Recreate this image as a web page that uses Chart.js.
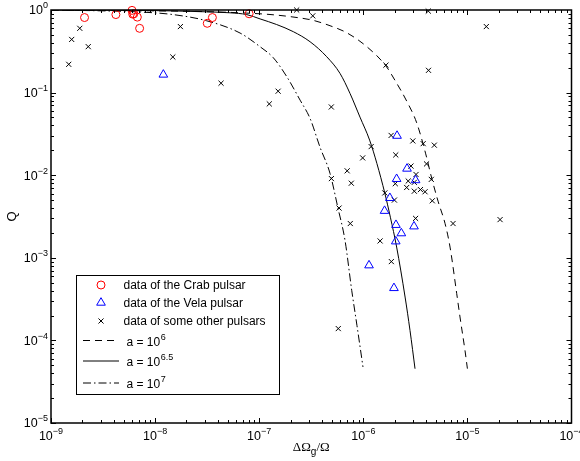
<!DOCTYPE html>
<html><head><meta charset="utf-8">
<script src="https://cdn.jsdelivr.net/npm/chart.js@4/dist/chart.umd.min.js"></script>
<style>html,body{margin:0;padding:0;background:#fff}#wrap{width:580px;height:461px;position:relative}</style>
</head><body><div id="wrap"><canvas id="c"></canvas></div>
<script>
// ---- data ----
const crabX = [2.1e-9, 4.2e-9, 6.0e-9, 6.1e-9, 6.25e-9, 6.75e-9, 7.1e-9, 3.17e-8, 3.55e-8, 8.0e-8];
const crabQ = [0.81, 0.88, 0.99, 0.89, 0.90, 0.82, 0.60, 0.69, 0.81, 0.90];

const velaX = [1.2e-8, 2.11e-6, 2.63e-6, 2.09e-6, 3.18e-6, 1.80e-6, 1.60e-6, 2.06e-6, 3.07e-6, 2.32e-6, 2.05e-6, 1.135e-6, 1.97e-6];
const velaQ = [0.165, 0.0300, 0.0120, 0.0090, 0.0087, 0.0053, 0.0037, 0.0025, 0.0024, 0.00198, 0.00158, 0.00081, 0.00043];

const otherX = [1.48e-9, 1.58e-9, 1.89e-9, 2.28e-9, 1.48e-8, 1.75e-8, 4.3e-8, 1.25e-7, 1.52e-7, 2.29e-7,
  3.27e-7, 4.93e-7, 1.65e-6, 4.21e-6, 4.23e-6, 1.52e-5, 1.85e-6, 2.99e-6, 3.76e-6, 4.81e-6,
  1.19e-6, 2.05e-6, 9.86e-7, 4.05e-6, 2.87e-6, 7.0e-7, 3.21e-6, 4.94e-7, 7.67e-7, 4.50e-6,
  2.70e-6, 3.09e-6, 2.03e-6, 2.61e-6, 3.09e-6, 3.54e-6, 3.92e-6, 1.61e-6, 1.99e-6, 4.60e-6,
  5.85e-7, 7.50e-7, 3.18e-6, 7.28e-6, 2.06e-5, 1.45e-6, 1.86e-6, 5.75e-7];
const otherQ = [0.22, 0.44, 0.60, 0.36, 0.27, 0.63, 0.13, 0.073, 0.104, 1.0,
  0.85, 0.067, 0.215, 0.97, 0.186, 0.63, 0.0303, 0.026, 0.0241, 0.0231,
  0.0222, 0.0176, 0.0162, 0.0137, 0.0129, 0.0113, 0.0102, 0.0091, 0.0080, 0.0089,
  0.0085, 0.0082, 0.0079, 0.0071, 0.0064, 0.0067, 0.0063, 0.0061, 0.0050, 0.0049,
  0.0040, 0.0026, 0.0030, 0.0026, 0.0029, 0.0016, 0.0009, 0.000139];

const a6X = [1e-9, 8.9e-9, 2.7e-8, 6.5e-8, 1.27e-7, 2.11e-7, 3.29e-7, 4.79e-7, 6.94e-7, 1.08e-6, 1.65e-6, 2.02e-6, 2.61e-6, 3.26e-6, 3.96e-6, 4.54e-6, 5.25e-6, 6.10e-6, 6.81e-6, 7.89e-6, 8.49e-6, 9.48e-6, 1.0e-5];
const a6Q = [0.995, 0.978, 0.959, 0.925, 0.882, 0.823, 0.75, 0.645, 0.53, 0.36, 0.21, 0.14, 0.079, 0.043, 0.0185, 0.0092, 0.00475, 0.0026, 0.00135, 0.000371, 0.000192, 7.56e-5, 4.55e-5];

const a65X = [1e-9, 8.9e-9, 2.7e-8, 5.24e-8, 7.59e-8, 1.02e-7, 1.47e-7, 2.13e-7, 3.08e-7, 4.45e-7, 5.97e-7, 7.45e-7, 9.29e-7, 1.15e-6, 1.35e-6, 1.61e-6, 1.82e-6, 2.09e-6, 2.52e-6, 2.81e-6, 3.14e-6];
const a65Q = [0.997, 0.986, 0.955, 0.925, 0.88, 0.78, 0.667, 0.546, 0.413, 0.272, 0.171, 0.0978, 0.0505, 0.0266, 0.0139, 0.00605, 0.0031, 0.00135, 0.000335, 0.000132, 4.54e-5];

const a7X = [1e-9, 2.96e-9, 7.16e-9, 1.49e-8, 3.13e-8, 6.55e-8, 1.02e-7, 1.36e-7, 1.84e-7, 2.47e-7, 3.08e-7, 3.84e-7, 4.79e-7, 5.71e-7, 6.67e-7, 7.74e-7, 8.69e-7, 9.93e-7];
const a7Q = [0.997, 0.978, 0.946, 0.88, 0.74, 0.526, 0.359, 0.266, 0.156, 0.0811, 0.0487, 0.0218, 0.0105, 0.0040, 0.00163, 0.000404, 0.000152, 4.77e-5];

const xTickValues = [1e-9, 1e-8, 1e-7, 1e-6, 1e-5, 1e-4];
const yTickValues = [1e-5, 1e-4, 1e-3, 1e-2, 1e-1, 1];
const tickBase = '10';
const legendLabels = ['data of the Crab pulsar', 'data of the Vela pulsar', 'data of some other pulsars', 'a = 10', 'a = 10', 'a = 10'];
const legendExponents = ['', '', '', '6', '6.5', '7'];
const xTitleParts = ['\u0394\u03A9', 'g', '/\u03A9'];
const yTitle = 'Q';

// ---- helpers ----
const zip = (xs, ys) => xs.map((x, i) => ({x: x, y: ys[i]}));
const expOf = v => String(Math.round(Math.log10(v))).replace('-', '\u2212');

function marker(ctx, style, x, y, r) {
  ctx.beginPath();
  if (style === 'circle') {
    ctx.arc(x, y, r, 0, Math.PI * 2);
  } else if (style === 'triangle') {
    for (let i = 0; i < 3; i++) {
      const a = i * 2 * Math.PI / 3;
      const px = x + Math.sin(a) * r, py = y - Math.cos(a) * r;
      if (i === 0) ctx.moveTo(px, py); else ctx.lineTo(px, py);
    }
    ctx.closePath();
  } else {
    const o = r * Math.SQRT1_2;
    ctx.moveTo(x - o, y - o); ctx.lineTo(x + o, y + o);
    ctx.moveTo(x + o, y - o); ctx.lineTo(x - o, y + o);
  }
  ctx.stroke();
}

const FBASE = '12.5px "Liberation Sans"', FEXP = '9px "Liberation Sans"';

const framePlugin = {
  id: 'frame',
  afterDatasetsDraw(chart) {
    const {ctx, chartArea: a, scales} = chart;
    ctx.save();
    ctx.strokeStyle = '#000';
    ctx.lineWidth = 1;
    ctx.beginPath();
    const xs = scales.x, ys = scales.y;
    for (let e = -9; e <= -5; e++) {
      for (let k = 1; k <= 9; k++) {
        const p = Math.round(xs.getPixelForValue(k * Math.pow(10, e))) + 0.5;
        const L = k === 1 ? 5 : 3;
        ctx.moveTo(p, a.bottom); ctx.lineTo(p, a.bottom - L);
        ctx.moveTo(p, a.top); ctx.lineTo(p, a.top + L);
      }
    }
    for (let e = -5; e <= -1; e++) {
      for (let k = 1; k <= 9; k++) {
        const p = Math.round(ys.getPixelForValue(k * Math.pow(10, e))) + 0.5;
        const L = k === 1 ? 5 : 3;
        ctx.moveTo(a.left, p); ctx.lineTo(a.left + L, p);
        ctx.moveTo(a.right, p); ctx.lineTo(a.right - L, p);
      }
    }
    ctx.stroke();
    ctx.lineWidth = 1.5;
    ctx.strokeRect(a.left, a.top, a.right - a.left, a.bottom - a.top);
    ctx.restore();
  },
  afterDraw(chart) {
    const {ctx, chartArea: a, scales} = chart;
    ctx.save();
    ctx.fillStyle = '#000';
    ctx.textBaseline = 'middle';
    ctx.textAlign = 'left';
    // tick labels: 10 with superscript exponent, placed via the scales
    scales.x.ticks.forEach(t => {
      const px = scales.x.getPixelForValue(t.value);
      const ex = expOf(t.value);
      ctx.font = FBASE; const wb = ctx.measureText(tickBase).width;
      ctx.font = FEXP; const we = ctx.measureText(ex).width;
      const x0 = px - (wb + we) / 2;
      ctx.font = FBASE; ctx.fillText(tickBase, x0, a.bottom + 14);
      ctx.font = FEXP; ctx.fillText(ex, x0 + wb, a.bottom + 9);
    });
    scales.y.ticks.forEach(t => {
      const py = scales.y.getPixelForValue(t.value);
      const ex = expOf(t.value);
      ctx.font = FBASE; const wb = ctx.measureText(tickBase).width;
      ctx.font = FEXP; const we = ctx.measureText(ex).width;
      const x0 = a.left - 3 - wb - we;
      ctx.font = FBASE; ctx.fillText(tickBase, x0, py + 1);
      ctx.font = FEXP; ctx.fillText(ex, x0 + wb, py - 4);
    });

    // x axis title with subscript
    ctx.textBaseline = 'alphabetic';
    const fBig = '13px "Liberation Serif"', fSmall = '10px "Liberation Sans"';
    ctx.font = fBig; const w1 = ctx.measureText(xTitleParts[0]).width;
    ctx.font = fSmall; const w2 = ctx.measureText(xTitleParts[1]).width;
    ctx.font = fBig; const w3 = ctx.measureText(xTitleParts[2]).width;
    let x0 = (a.left + a.right) / 2 - (w1 + w2 + w3) / 2;
    const by = 451;
    ctx.font = fBig; ctx.fillText(xTitleParts[0], x0, by);
    ctx.font = fSmall; ctx.fillText(xTitleParts[1], x0 + w1, by + 4);
    ctx.font = fBig; ctx.fillText(xTitleParts[2], x0 + w1 + w2, by);

    // legend
    const bx = 76.5, bY = 275.5, bw = 203, bh = 119;
    ctx.fillStyle = '#fff';
    ctx.fillRect(bx, bY, bw, bh);
    ctx.strokeStyle = '#000'; ctx.lineWidth = 1;
    ctx.strokeRect(bx, bY, bw, bh);
    const rows = [285, 302.7, 321, 340.5, 361, 383];
    const ds = chart.data.datasets;
    ctx.textBaseline = 'middle';
    for (let i = 0; i < 6; i++) {
      const d = ds[i];
      const y = rows[i];
      ctx.strokeStyle = d.borderColor;
      ctx.lineWidth = 1;
      if (i < 3) {
        ctx.setLineDash([]);
        marker(ctx, d.pointStyle, 101, y, d.pointRadius);
        ctx.fillStyle = '#000';
        ctx.font = '12px "Liberation Sans"';
        ctx.fillText(legendLabels[i], 123.5, y + 0.5);
      } else {
        ctx.setLineDash(d.borderDash || []);
        ctx.beginPath(); ctx.moveTo(83, y); ctx.lineTo(119, y); ctx.stroke();
        ctx.setLineDash([]);
        ctx.fillStyle = '#000';
        ctx.font = '12px "Liberation Sans"';
        ctx.fillText(legendLabels[i], 126.5, y + 2);
        const w = ctx.measureText(legendLabels[i]).width;
        ctx.font = '9px "Liberation Sans"';
        ctx.fillText(legendExponents[i], 126.5 + w + 0.5, y - 3);
      }
    }
    ctx.restore();
  }
};

new Chart(document.getElementById('c'), {
  type: 'scatter',
  data: {
    datasets: [
      {label: 'Crab', data: zip(crabX, crabQ), pointStyle: 'circle', pointRadius: 4, borderColor: '#ff0000', backgroundColor: 'rgba(0,0,0,0)', borderWidth: 1, pointBorderWidth: 1, clip: false, order: 1},
      {label: 'Vela', data: zip(velaX, velaQ), pointStyle: 'triangle', pointRadius: 5, borderColor: '#0000ff', backgroundColor: 'rgba(0,0,0,0)', borderWidth: 1, pointBorderWidth: 1, clip: false, order: 2},
      {label: 'Other', data: zip(otherX, otherQ), pointStyle: 'crossRot', pointRadius: 3.6, borderColor: '#000000', backgroundColor: 'rgba(0,0,0,0)', borderWidth: 1, pointBorderWidth: 1, clip: false, order: 3},
      {label: 'a=1e6', data: zip(a6X, a6Q), showLine: true, pointRadius: 0, borderColor: '#000000', borderWidth: 1, borderDash: [7, 5], cubicInterpolationMode: 'monotone', order: 4},
      {label: 'a=1e6.5', data: zip(a65X, a65Q), showLine: true, pointRadius: 0, borderColor: '#000000', borderWidth: 1, cubicInterpolationMode: 'monotone', order: 5},
      {label: 'a=1e7', data: zip(a7X, a7Q), showLine: true, pointRadius: 0, borderColor: '#000000', borderWidth: 1, borderDash: [8, 3, 1.5, 3], cubicInterpolationMode: 'monotone', order: 6}
    ]
  },
  options: {
    responsive: true, maintainAspectRatio: false, animation: false,
    layout: {padding: {top: 10, right: 8.5, left: 0, bottom: 0}},
    plugins: {legend: {display: false}, tooltip: {enabled: false}},
    scales: {
      x: {
        type: 'logarithmic', min: 1e-9, max: 1e-4,
        grid: {display: false, drawTicks: false}, border: {display: false},
        afterBuildTicks: s => { s.ticks = xTickValues.map(v => ({value: v})); },
        ticks: {display: false},
        afterFit: s => { s.height = 38; s.paddingLeft = 0; s.paddingRight = 0; }
      },
      y: {
        type: 'logarithmic', min: 1e-5, max: 1,
        grid: {display: false, drawTicks: false}, border: {display: false},
        afterBuildTicks: s => { s.ticks = yTickValues.map(v => ({value: v})); },
        ticks: {display: false},
        title: {display: true, text: yTitle, color: '#000', font: {family: '"Liberation Sans"', size: 13}, padding: {top: 5, bottom: 0}},
        afterFit: s => { s.width = 51; s.paddingTop = 0; s.paddingBottom = 0; }
      }
    }
  },
  plugins: [framePlugin]
});
</script>
</body></html>
